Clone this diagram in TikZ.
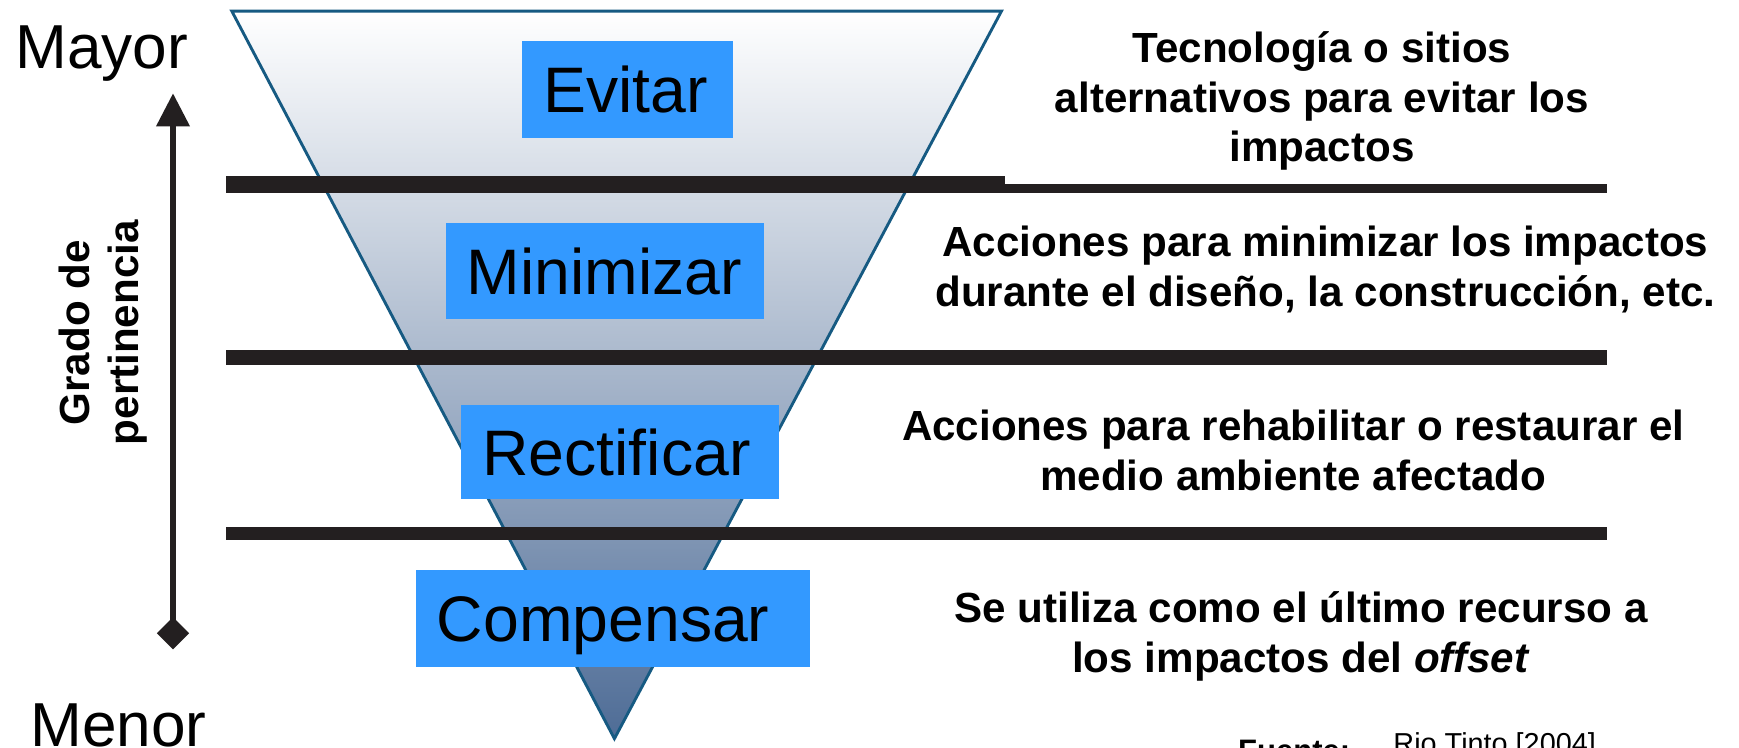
\documentclass[tikz,border=0pt]{standalone}
\usepackage{fontspec}
\setmainfont{Liberation Sans}
\usetikzlibrary{arrows.meta}
\definecolor{boxblue}{RGB}{51,153,255}
\definecolor{triEdge}{RGB}{22,90,130}
\definecolor{triBot}{RGB}{78,108,150}
\definecolor{barblack}{RGB}{35,31,32}
\tikzset{
  blk/.style={fill=boxblue, inner xsep=9.5pt, inner ysep=0pt, align=left,
    text height=20.8pt, text depth=0pt,
    font=\fontsize{29}{31}\selectfont, minimum height=43.5pt},
  desc/.style={align=center, inner sep=0pt, font=\fontsize{19}{22.5}\selectfont\bfseries},
  bar/.style={fill=barblack},
  side/.style={inner sep=0pt, font=\fontsize{28}{30}\selectfont, anchor=base west}
}
\begin{document}
\begin{tikzpicture}[x=0.5pt,y=-0.5pt]
\useasboundingbox (0,0) rectangle (1568,674);
\clip (0,0) rectangle (1568,674);
\fill[white] (0,0) rectangle (1568,674);
% triangle
\coordinate (tl) at (209,10);
\coordinate (tr) at (903,10);
\coordinate (tp) at (554,666);
\shade[top color=white, bottom color=triBot] (tl) -- (tr) -- (tp) -- cycle;
\draw[triEdge, line width=1.3pt, line join=miter] (tl) -- (tr) -- (tp) -- cycle;
% bars
\fill[bar] (204,159) rectangle (906,174);
\fill[bar] (906,166) rectangle (1449,174);
\fill[bar] (204,316) rectangle (1449,329);
\fill[bar] (204,475) rectangle (1449,487);
% boxes
\node[blk, text width=76pt] (evitar) at (566,80.5) {Evitar};
\node[blk, text width=124.5pt] (minimizar) at (545.5,244.5) {Minimizar};
\node[blk, text width=124pt, minimum height=42.5pt] (rectificar) at (559,407.5) {Rectificar};
\node[blk, text width=158.5pt] (compensar) at (552.5,557.5) {Compensar};
% descriptions
\node[desc] (d1) at (1192,91) {Tecnología o sitios\\alternativos para evitar los\\impactos};
\node[desc] (d2) at (1195,243) {Acciones para minimizar los impactos\\durante el diseño, la construcción, etc.};
\node[desc] (d3) at (1166,406) {Acciones para rehabilitar o restaurar el\\medio ambiente afectado};
\node[desc] (d4) at (1173,574) {Se utiliza como el último recurso a\\los impactos del \textit{offset}};
% axis
\node[side] (mayor) at (13.5,61.6) {Mayor};
\node[side] (menor) at (27,673) {Menor};
\coordinate (atop) at (156,84);
\coordinate (abot) at (156,585.5);
\draw[barblack, line width=3pt, {Diamond[length=14.5pt,width=14.5pt]}-{Triangle[length=15pt,width=14.5pt]}] (abot) -- (atop);
\node[desc, rotate=90, font=\fontsize{19}{22}\selectfont\bfseries] (grado) at (93,300) {Grado de\\pertinencia};
% source
\node[inner sep=0pt, anchor=base west, font=\fontsize{14}{16}\selectfont\bfseries] (fuente) at (1116,687) {Fuente:};
\node[inner sep=0pt, anchor=base west, font=\fontsize{13}{15}\selectfont] (rio) at (1256,679) {Rio Tinto [2004]};
\end{tikzpicture}
\end{document}
